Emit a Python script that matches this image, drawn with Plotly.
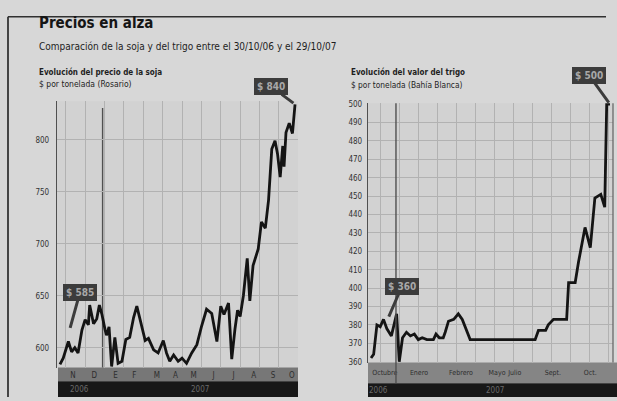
import plotly.graph_objects as go

# ---------------- data ----------------
titulo = "Precios en alza"
subtitulo = "Comparación de la soja y del trigo entre el 30/10/06 y el 29/10/07"

soja_titulo = "Evolución del precio de la soja"
soja_unidad = "$ por tonelada (Rosario)"
trigo_titulo = "Evolución del valor del trigo"
trigo_unidad = "$ por tonelada (Bahía Blanca)"

# days since 30/10/06
soja_dias = [0, 5, 13, 18, 23, 28, 34, 39, 44, 46, 52, 57, 61, 65, 70, 72, 76, 80, 85, 90,
             96, 102, 108, 114, 119, 124, 132, 137, 145, 152, 160, 165, 170, 176, 183, 189,
             196, 204, 212, 219, 227, 235, 243, 249, 254, 261, 266, 271, 275, 279, 284, 290,
             294, 299, 307, 312, 318, 323, 328, 333, 337, 341, 345, 347, 350, 355, 360, 364]
soja_precio = [584, 590, 606, 596, 600, 595, 617, 627, 622, 641, 623, 628, 641, 632, 617, 612,
               620, 582, 610, 585, 587, 608, 610, 629, 640, 627, 607, 609, 598, 595, 607, 595,
               587, 593, 587, 590, 585, 595, 603, 620, 637, 633, 606, 640, 632, 643, 589, 618,
               636, 630, 650, 686, 645, 679, 695, 721, 715, 742, 791, 799, 786, 764, 794, 774,
               807, 816, 806, 834]

trigo_dias = [0, 4, 9, 14, 19, 24, 31, 36, 39, 43, 48, 54, 60, 66, 72, 78, 85, 95, 99, 104,
              110, 113, 118, 126, 133, 139, 146, 151, 250, 255, 266, 270, 278, 298, 301, 311,
              316, 326, 334, 341, 350, 356, 359, 364]
trigo_precio = [362, 364, 380, 379, 383, 378, 374, 381, 386, 360, 373, 376, 374, 375, 372, 373,
                372, 372, 375, 373, 373, 376, 382, 383, 386, 383, 377, 372, 372, 377, 377, 380,
                383, 383, 403, 403, 414, 433, 422, 449, 451, 444, 500, 500]

soja_meses = ["N", "D", "E", "F", "M", "A", "M", "J", "J", "A", "S", "O"]
soja_meses_pos = [20, 53, 86, 115, 150, 179, 207, 238, 269, 300, 330, 359]
trigo_meses = ["Octubre", "Enero", "Febrero", "Mayo", "Julio", "Sept.", "Oct."]
trigo_meses_pos = [21, 73, 137, 192, 219, 277, 334]

anios = ["2006", "2007"]
soja_anios_pos = [31, 217]
trigo_anios_pos = [11, 189]
soja_limite_anio = 66
trigo_limite_anio = 38

soja_ticks = [600, 650, 700, 750, 800]
trigo_ticks = [360, 370, 380, 390, 400, 410, 420, 430, 440, 450, 460, 470, 480, 490, 500]

etiqueta_soja_ini = "$ 585"
etiqueta_soja_fin = "$ 840"
etiqueta_trigo_ini = "$ 360"
etiqueta_trigo_fin = "$ 500"

# ---------------- style ----------------
W, H = 617, 401
NARROW = "Liberation Sans Narrow, DejaVu Sans Condensed, sans-serif"
PAPER = "#d7d7d7"
PLOT = "#d2d2d2"
GRID = "#b2b2b2"
INK = "#141414"
BOX = "#3c3c3c"


def px(x):
    return x / W


def py(y):
    return 1 - y / H


fig = go.Figure()

fig.add_trace(go.Scatter(x=soja_dias, y=soja_precio, mode="lines",
                         line=dict(color=INK, width=2.8), xaxis="x", yaxis="y",
                         showlegend=False, hoverinfo="skip"))
fig.add_trace(go.Scatter(x=trigo_dias, y=trigo_precio, mode="lines",
                         line=dict(color=INK, width=2.8), xaxis="x2", yaxis="y2",
                         showlegend=False, hoverinfo="skip"))

xr = [-4.6, 368.6]
tickfont = dict(family=NARROW, size=8, color="#333333")

fig.update_layout(
    width=W, height=H,
    margin=dict(l=0, r=0, t=0, b=0),
    paper_bgcolor=PAPER, plot_bgcolor=PLOT,
    xaxis=dict(domain=[px(57), px(298)], range=xr, anchor="y",
               tickmode="array", tickvals=soja_meses_pos, ticktext=soja_meses,
               ticks="", showgrid=False, zeroline=False, showline=False, tickangle=0,
               tickfont=dict(family=NARROW, size=8, color="#2e2e2e"),
               ticklabelstandoff=1,
               minor=dict(tick0=9, dtick=30, showgrid=True, gridcolor=GRID, gridwidth=1)),
    yaxis=dict(domain=[py(371), py(100)], range=[581, 837], anchor="x",
               tickmode="array", tickvals=soja_ticks, ticks="",
               showgrid=True, gridcolor=GRID, gridwidth=1, zeroline=False,
               showline=True, linecolor="#505050", linewidth=1.4,
               tickfont=tickfont, ticklabelstandoff=5),
    xaxis2=dict(domain=[px(368), px(613)], range=xr, anchor="y2",
                tickmode="array", tickvals=trigo_meses_pos, ticktext=trigo_meses,
                ticks="", showgrid=False, zeroline=False, showline=False, tickangle=0,
                tickfont=dict(family=NARROW, size=7, color="#2e2e2e"),
                ticklabelstandoff=4,
                minor=dict(tick0=14, dtick=29, showgrid=True, gridcolor=GRID, gridwidth=1)),
    yaxis2=dict(domain=[py(366), py(102)], range=[359.5, 500.5], anchor="x2",
                tickmode="array", tickvals=trigo_ticks, ticks="",
                showgrid=True, gridcolor=GRID, gridwidth=1, zeroline=False,
                showline=True, linecolor="#505050", linewidth=1.4,
                tickfont=tickfont, ticklabelstandoff=3),
)

shapes = []
# bands under the charts
shapes.append(dict(type="rect", xref="paper", yref="paper", x0=px(58), x1=px(298),
                   y0=py(385), y1=py(371), fillcolor="#777777", line_width=0, layer="below"))
shapes.append(dict(type="rect", xref="paper", yref="paper", x0=px(58), x1=px(298),
                   y0=0, y1=py(385), fillcolor="#181818", line_width=0, layer="below"))
shapes.append(dict(type="rect", xref="paper", yref="paper", x0=px(368), x1=1,
                   y0=py(387), y1=py(366), fillcolor="#858585", line_width=0, layer="below"))
shapes.append(dict(type="rect", xref="paper", yref="paper", x0=px(368), x1=1,
                   y0=0, y1=py(387), fillcolor="#181818", line_width=0, layer="below"))
# year boundaries
shapes.append(dict(type="line", xref="x", yref="y domain", x0=soja_limite_anio, x1=soja_limite_anio,
                   y0=0, y1=0.975, line=dict(color="#505050", width=1.4), layer="below"))
shapes.append(dict(type="line", xref="x2", yref="y2 domain", x0=trigo_limite_anio, x1=trigo_limite_anio,
                   y0=-0.08, y1=1, line=dict(color="#505050", width=1.4), layer="above"))
# right edge of wheat chart
shapes.append(dict(type="line", xref="paper", yref="paper", x0=px(613), x1=px(613),
                   y0=py(366), y1=py(102), line=dict(color="#606060", width=1.2)))
# frame of the whole graphic
shapes.append(dict(type="line", xref="paper", yref="paper", x0=px(8), x1=px(8),
                   y0=0, y1=py(14), line=dict(color="#202020", width=1.6)))
shapes.append(dict(type="line", xref="paper", yref="paper", x0=px(8), x1=px(606),
                   y0=py(14), y1=py(14), line=dict(color="#303030", width=1.4)))
fig.update_layout(shapes=shapes)

ann = []


def text(x, y, s, size, bold=False, color="#1e1e1e"):
    ann.append(dict(xref="paper", yref="paper", x=px(x), y=py(y), text=(f"<b>{s}</b>" if bold else s),
                    showarrow=False, xanchor="left", yanchor="middle",
                    font=dict(family=NARROW, size=size, color=color)))


text(37, 20, titulo, 15, bold=True, color="#151515")
text(37, 44, subtitulo, 10)
text(37, 70, soja_titulo, 8, bold=True)
text(37, 82, soja_unidad, 8.5)
text(349, 70, trigo_titulo, 8, bold=True)
text(349, 83, trigo_unidad, 8.3)

# year labels in black band
for s, xpos in zip(anios, soja_anios_pos):
    ann.append(dict(xref="x", yref="paper", x=xpos, y=py(393), text=s, showarrow=False,
                    xanchor="center", yanchor="middle",
                    font=dict(family=NARROW, size=8, color="#6a6a6a")))
for s, xpos in zip(anios, trigo_anios_pos):
    ann.append(dict(xref="x2", yref="paper", x=xpos, y=py(394), text=s, showarrow=False,
                    xanchor="center", yanchor="middle",
                    font=dict(family=NARROW, size=8, color="#6a6a6a")))


def callout(xa, ya, xv, yv, s, ax, ay, standoff=0):
    ann.append(dict(xref=xa, yref=ya, x=xv, y=yv, text=f"<b>{s}</b>", showarrow=True,
                    ax=ax, ay=ay, arrowhead=0, arrowwidth=3, arrowcolor=BOX,
                    standoff=standoff, bgcolor=BOX, bordercolor=BOX, borderpad=2,
                    font=dict(family=NARROW, size=10, color="#a8a8a8")))


callout("x", "y", soja_dias[0], soja_precio[0], etiqueta_soja_ini, 20, -72, standoff=38)
callout("x", "y", soja_dias[-1], soja_precio[-1], etiqueta_soja_fin, -24, -18, standoff=2)
callout("x2", "y2", trigo_dias[0], trigo_precio[0], etiqueta_trigo_ini, 31, -72, standoff=45)
callout("x2", "y2", trigo_dias[-1], trigo_precio[-1], etiqueta_trigo_fin, -21, -29, standoff=2)

fig.update_layout(annotations=ann)

fig.write_html("out.html", config={"displayModeBar": False},
               post_script="document.body.style.margin='0';document.body.style.background='#d7d7d7';")
